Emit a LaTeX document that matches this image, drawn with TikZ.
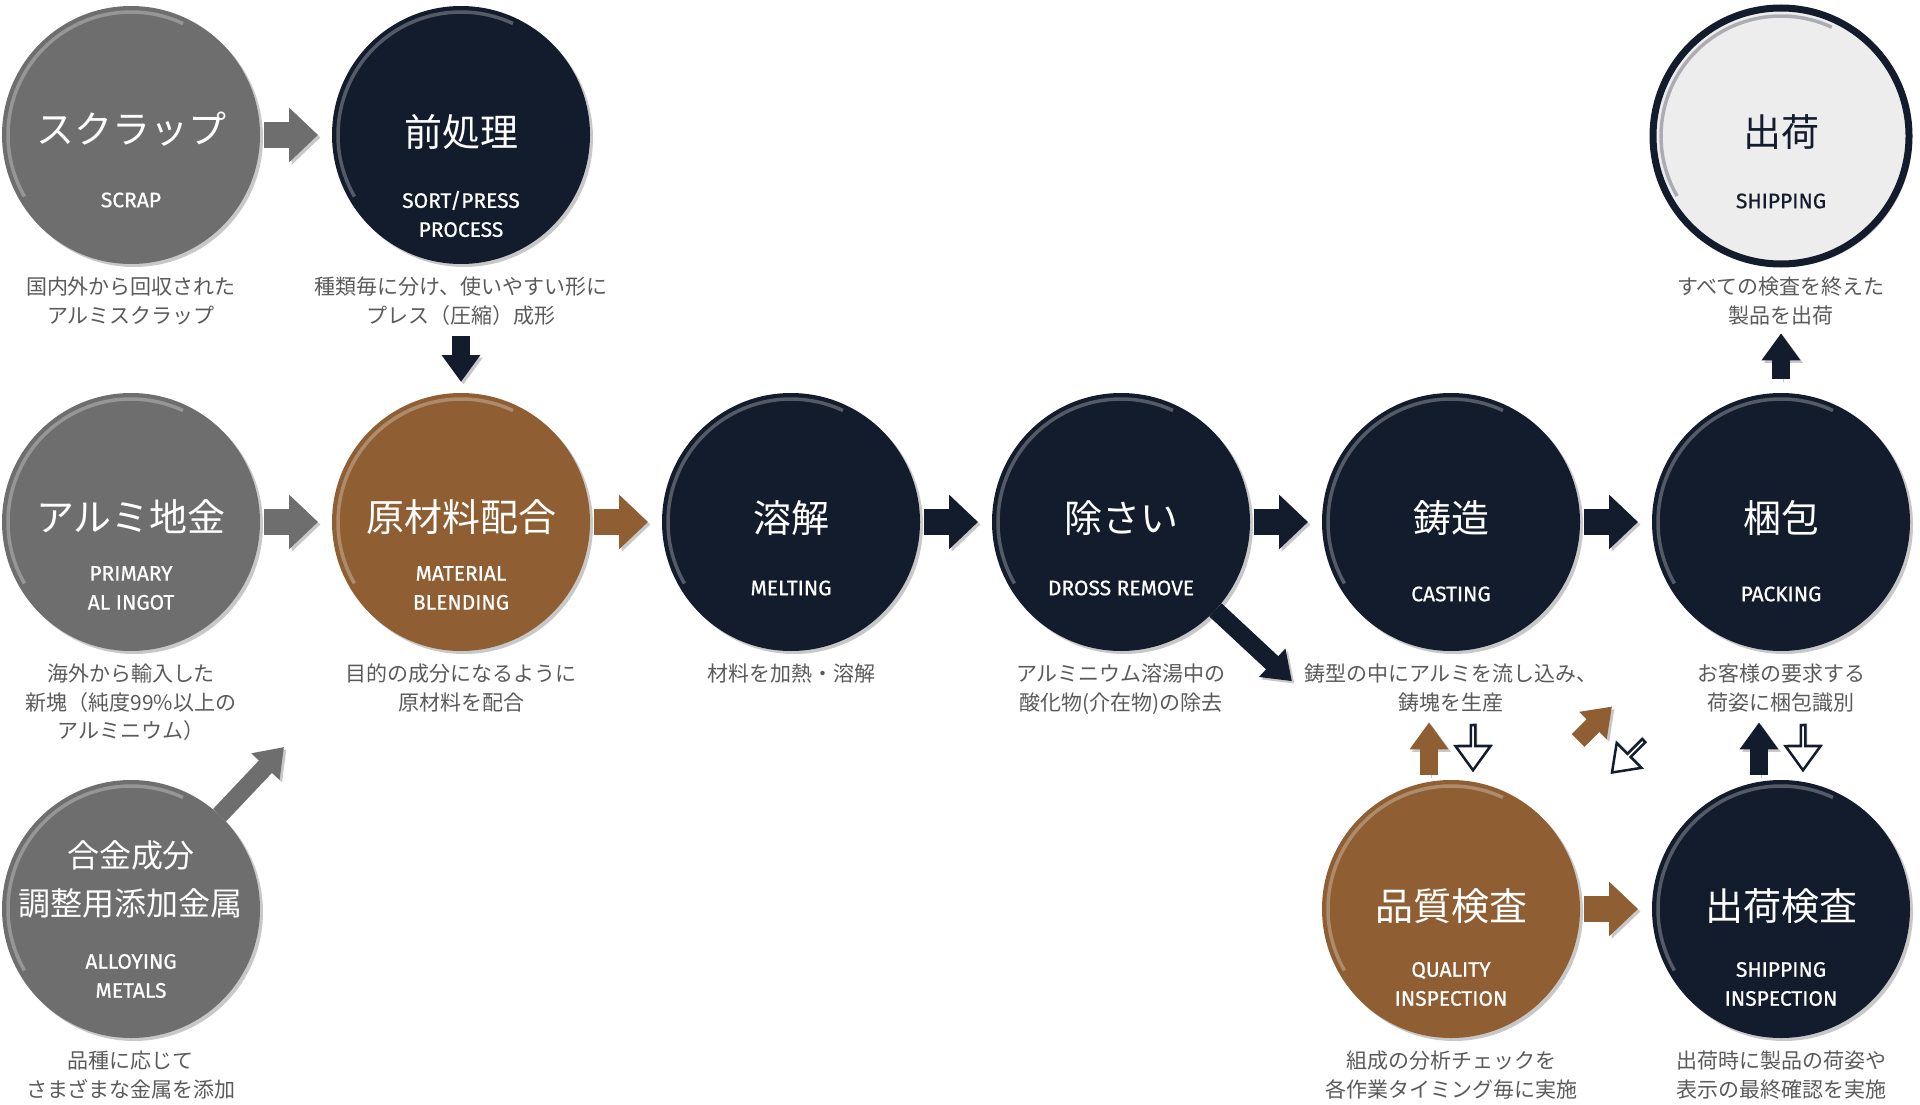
\documentclass[tikz,border=0pt]{standalone}
\usepackage{fontspec}
\setmainfont{Noto Sans CJK JP}
\newfontfamily\en{Fira Sans}[UprightFeatures={FakeBold=0.7}]
\usetikzlibrary{arrows.meta,positioning,shapes.arrows,shadows,calc}
\definecolor{navy}{HTML}{131C2D}
\definecolor{stepgray}{HTML}{6E6E6E}
\definecolor{bronze}{HTML}{8F5F33}
\definecolor{paper}{HTML}{EDEDED}
\definecolor{shade}{HTML}{C8C8C8}
\definecolor{descgray}{HTML}{5A5A5A}

\begin{document}
\begin{tikzpicture}[x=1pt, y=-1pt,
    proc/.style={circle, minimum size=258pt, inner sep=0pt, outer sep=0pt,
      drop shadow={shadow xshift=3pt, shadow yshift=-3pt, fill=shade, opacity=1}},
    graystep/.style={proc, fill=stepgray},
    navystep/.style={proc, fill=navy},
    brownstep/.style={proc, fill=bronze},
    lightstep/.style={proc, fill=paper, draw=navy, line width=7pt, minimum size=256pt},
    ttl/.style={text=white, font=\fontsize{38}{46}\selectfont, align=center, inner sep=0pt},
    eng/.style={text=white, font=\en\fontsize{21}{29}\selectfont, align=center, inner sep=0pt},
    desc/.style={text=descgray, font=\fontsize{21}{28.5}\selectfont, align=center, inner sep=0pt},
    hl/.style={line width=3.5pt, white, opacity=.28},
    big/.style={line width=26pt, -{Triangle[length=29pt, width=53pt]},
      preaction={draw=shade, transform canvas={shift={(2.5pt,-2.5pt)}}}},
    small/.style={line width=18pt, -{Triangle[length=27pt, width=37pt]},
      preaction={draw=shade, transform canvas={shift={(2.5pt,-2.5pt)}}}},
    hollow/.style={single arrow, draw=navy, fill=white, line width=2.5pt, inner sep=0pt,
      minimum height=45pt, minimum width=35pt, single arrow head extend=8.5pt,
      single arrow tip angle=72}
  ]
  \useasboundingbox (0,0) rectangle (1920,1105);

  \node[graystep] (scrap) at (131,135) {};
  \node[navystep, right=72pt of scrap] (prep) {};
  \node[graystep, below=129pt of scrap] (ingot) {};
  \node[brownstep, right=72pt of ingot] (blend) {};
  \node[navystep, right=72pt of blend] (melt) {};
  \node[navystep, right=72pt of melt] (dross) {};
  \node[navystep, right=72pt of dross] (cast) {};
  \node[navystep, right=72pt of cast] (pack) {};
  \node[lightstep, above=129pt of pack] (ship) {};
  \node[graystep, below=129pt of ingot] (alloy) {};
  \node[brownstep, below=129pt of cast] (qual) {};
  \node[navystep, below=129pt of pack] (shipins) {};

  \foreach \n in {scrap,prep,ingot,blend,melt,dross,cast,pack,alloy,qual,shipins}
    \draw[hl] (\n.center) ++(210:123pt) arc[start angle=210, end angle=65, radius=123pt];
  \draw[hl, navy, opacity=.3] (ship.center) ++(210:120pt) arc[start angle=210, end angle=65, radius=120pt];

  \node[ttl] at ([yshift=6pt]scrap.center) {スクラップ};
  \node[eng] at ([yshift=-65pt]scrap.center) {SCRAP};
  \node[ttl] at ([yshift=3pt]prep.center) {前処理};
  \node[eng] at ([yshift=-79pt]prep.center) {SORT/PRESS\\PROCESS};
  \node[ttl, text=navy] at ([yshift=4pt]ship.center) {出荷};
  \node[eng, text=navy] at ([yshift=-65pt]ship.center) {SHIPPING};
  \node[ttl] at ([yshift=5pt]ingot.center) {アルミ地金};
  \node[eng] at ([yshift=-66pt]ingot.center) {PRIMARY\\AL INGOT};
  \node[ttl] at ([yshift=5pt]blend.center) {原材料配合};
  \node[eng] at ([yshift=-66pt]blend.center) {MATERIAL\\BLENDING};
  \node[ttl] at ([yshift=4pt]melt.center) {溶解};
  \node[eng] at ([yshift=-66pt]melt.center) {MELTING};
  \node[ttl] at ([yshift=4pt]dross.center) {除さい};
  \node[eng] at ([yshift=-66pt]dross.center) {DROSS REMOVE};
  \node[ttl] at ([yshift=4pt]cast.center) {鋳造};
  \node[eng] at ([yshift=-72pt]cast.center) {CASTING};
  \node[ttl] at ([yshift=4pt]pack.center) {梱包};
  \node[eng] at ([yshift=-72pt]pack.center) {PACKING};
  \node[ttl, font=\fontsize{32}{48}\selectfont] at ([yshift=30pt]alloy.center) {合金成分\\調整用添加金属};
  \node[eng] at ([yshift=-67pt]alloy.center) {ALLOYING\\METALS};
  \node[ttl] at ([yshift=3pt]qual.center) {品質検査};
  \node[eng] at ([yshift=-75pt]qual.center) {QUALITY\\INSPECTION};
  \node[ttl] at ([yshift=3pt]shipins.center) {出荷検査};
  \node[eng] at ([yshift=-75pt]shipins.center) {SHIPPING\\INSPECTION};

  \node[desc, below=13pt of scrap] (scrapd) {国内外から回収された\\アルミスクラップ};
  \node[desc, below=13pt of prep] (prepd) {種類毎に分け、使いやすい形に\\プレス（圧縮）成形};
  \node[desc, below=13pt of ship] (shipd) {すべての検査を終えた\\製品を出荷};
  \node[desc, below=13pt of ingot] (ingotd) {海外から輸入した\\新塊（純度99\%以上の\\アルミニウム）};
  \node[desc, below=13pt of blend] (blendd) {目的の成分になるように\\原材料を配合};
  \node[desc, below=13pt of melt] (meltd) {材料を加熱・溶解};
  \node[desc, below=13pt of dross] (drossd) {アルミニウム溶湯中の\\酸化物(介在物)の除去};
  \node[desc, below=13pt of cast] (castd) {鋳型の中にアルミを流し込み、\\鋳塊を生産};
  \node[desc, below=13pt of pack] (packd) {お客様の要求する\\荷姿に梱包識別};
  \node[desc, below=13pt of alloy] (alloyd) {品種に応じて\\さまざまな金属を添加};
  \node[desc, below=13pt of qual] (quald) {組成の分析チェックを\\各作業タイミング毎に実施};
  \node[desc, below=13pt of shipins] (shipinsd) {出荷時に製品の荷姿や\\表示の最終確認を実施};

  \draw[big, stepgray] ([xshift=4pt]scrap.east) -- ([xshift=-14pt]prep.west);
  \draw[big, stepgray] ([xshift=4pt]ingot.east) -- ([xshift=-14pt]blend.west);
  \draw[big, bronze] ([xshift=4pt]blend.east) -- ([xshift=-14pt]melt.west);
  \draw[big, navy] ([xshift=4pt]melt.east) -- ([xshift=-14pt]dross.west);
  \draw[big, navy] ([xshift=4pt]dross.east) -- ([xshift=-14pt]cast.west);
  \draw[big, navy] ([xshift=4pt]cast.east) -- ([xshift=-14pt]pack.west);
  \draw[big, bronze] ([xshift=4pt]qual.east) -- ([xshift=-14pt]shipins.west);

  \draw[small, navy] ([yshift=-10pt]prepd.south) -- ([yshift=11pt]blend.north);
  \draw[small, navy] ([yshift=14pt]pack.north) -- ([yshift=-8pt]shipd.south);
  \draw[small, navy] (dross) -- ([xshift=-12pt, yshift=7pt]castd.west);
  \coordinate (alloytip) at ([shift={(153pt,162pt)}]alloy.center);
  \draw[small, stepgray] (alloy) -- (alloytip);

  \draw[small, bronze] ([xshift=-22pt, yshift=5pt]qual.north) -- ([xshift=-22pt, yshift=-10pt]castd.south);
  \node[hollow, rotate=-90, drop shadow={shadow xshift=2pt, shadow yshift=2pt, fill=shade, opacity=1}]
    (castback) at ($(castd.south)!.5!(qual.north)+(22pt,0pt)$) {};
  \draw[small, navy] ([xshift=-22pt, yshift=5pt]shipins.north) -- ([xshift=-22pt, yshift=-10pt]packd.south);
  \node[hollow, rotate=-90, drop shadow={shadow xshift=2pt, shadow yshift=2pt, fill=shade, opacity=1}]
    (packback) at ($(packd.south)!.5!(shipins.north)+(22pt,0pt)$) {};

  \coordinate (mid) at ($(qual)!.5!(pack)$);
  \draw[small, bronze] ([shift={(-38pt,-25pt)}]mid) -- ([shift={(-4pt,9pt)}]mid);
  \node[hollow, rotate=225, drop shadow={shadow xshift=0pt, shadow yshift=2.8pt, fill=shade, opacity=1}]
    (diagback) at ([shift={(13pt,-40pt)}]mid) {};
\end{tikzpicture}
\end{document}
